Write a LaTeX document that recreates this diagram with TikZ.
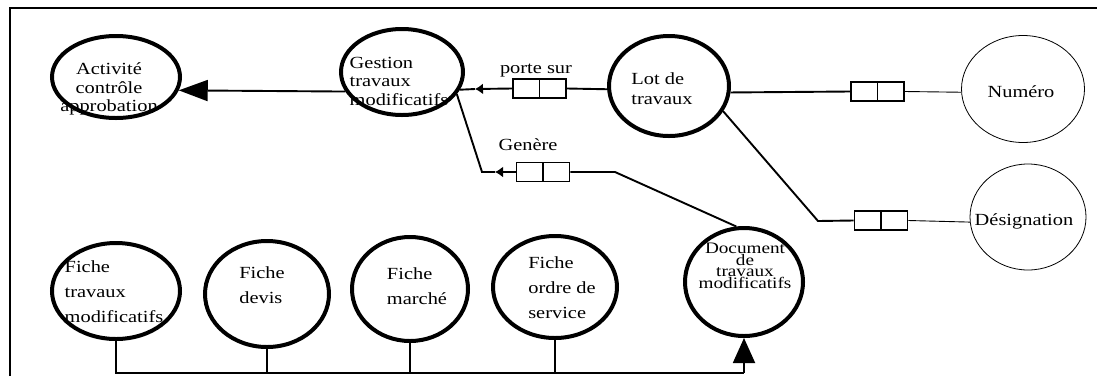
\documentclass[tikz,border=0pt]{standalone}
\usepackage{fontspec}
\setmainfont{Liberation Serif}[FakeStretch=1.2]
\usetikzlibrary{shapes.geometric,arrows.meta}
\begin{document}
\begin{tikzpicture}[x=1pt,y=-1pt,
  ell/.style={ellipse,draw,inner sep=0pt,line width=4pt},
  thinell/.style={ellipse,draw,inner sep=0pt,line width=0.8pt},
  txt/.style={inner sep=0pt,font=\fontsize{17}{18.5}\selectfont,align=left},
  card/.style={draw,line width=1.8pt,minimum width=53pt,minimum height=19pt,inner sep=0pt,
    path picture={\draw[line width=1.8pt] (path picture bounding box.north) -- (path picture bounding box.south);}},
  conn/.style={line width=1.9pt},
  fine/.style={line width=0.9pt},
  bigtip/.style={-{Triangle[length=29pt,width=21pt]}},
  cardtip/.style={{Latex[length=8pt,width=11pt]}-},
]
\useasboundingbox (0,0) rectangle (1097,376);
% frame
\draw[line width=1.5pt] (10,376) -- (10,8) -- (1097,8);

% texts
\node[txt,align=center] (act-t) at (109,89) {Activité\\contrôle\\approbation};
\node[txt] (ges-t) at (399,81) {Gestion\\travaux\\modificatifs};
\node[txt,font=\fontsize{17}{20}\selectfont] (lot-t) at (662,89) {Lot de\\travaux};
\node[txt] (num-t) at (1021,92) {Numéro};
\node[txt] (des-t) at (1024,221) {Désignation};
\node[txt,font=\fontsize{17}{25}\selectfont] (ftm-t) at (114,292) {Fiche\\travaux\\modificatifs};
\node[txt,font=\fontsize{17}{25}\selectfont] (fdv-t) at (262,285) {Fiche\\devis};
\node[txt,font=\fontsize{17}{25}\selectfont] (fma-t) at (417,286) {Fiche\\marché};
\node[txt,font=\fontsize{17}{25}\selectfont] (fos-t) at (562,288) {Fiche\\ordre de\\service};
\node[txt,align=center,font=\fontsize{16}{11.5}\selectfont] (doc-t) at (745,266) {Document\\de\\travaux\\modificatifs};
\node[txt] (l-porte) at (536,71) {porte sur};
\node[txt] (l-genere) at (528,145) {Genère};

% ellipses
\node[ell,minimum width=128pt,minimum height=82pt] (act) at (116,77) {};
\node[ell,minimum width=122pt,minimum height=86pt] (ges) at (402,72) {};
\node[ell,minimum width=120pt,minimum height=100pt] (lot) at (669,86) {};
\node[thinell,minimum width=123pt,minimum height=107pt] (num) at (1023,89) {};
\node[thinell,minimum width=116pt,minimum height=106pt] (des) at (1028,217) {};
\node[ell,minimum width=128pt,minimum height=96pt] (ftm) at (116,291) {};
\node[ell,minimum width=124pt,minimum height=106pt] (fdv) at (267,294) {};
\node[ell,minimum width=116pt,minimum height=104pt] (fma) at (410,289) {};
\node[ell,minimum width=124pt,minimum height=102pt] (fos) at (555,287) {};
\node[ell,minimum width=118pt,minimum height=108pt] (doc) at (744,282) {};

% cardinality boxes
\node[card] (c1) at (539.5,88.5) {};
\node[card] (c2) at (543,172) {};
\node[card] (c3) at (877.5,91.5) {};
\node[card] (c4) at (881,220.5) {};

% helper coordinates
\coordinate (m1) at (475,89);
\coordinate (g1) at (482,172);
\coordinate (m2) at (495,172);
\coordinate (g2) at (615,172);
\coordinate (d1) at (818,221);
\coordinate (bus) at (0,373);

% connectors
\draw[conn,bigtip] (ges.199) -- (act.-12);
\draw[conn] (ges.-17) -- (m1);
\draw[conn,cardtip] (m1) -- (c1.west);
\draw[conn] (c1.east) -- (lot.183);
\draw[conn] (ges.-22) -- (g1) -- (m2);
\draw[conn,cardtip] (m2) -- (c2.west);
\draw[conn] (c2.east) -- (g2) -- (doc.98);
\draw[conn] (lot.-6) -- (c3.west);
\draw[fine] (c3.east) -- (num.183);
\draw[conn] (lot.-25) -- (d1) -- (c4.west);
\draw[fine] (c4.east) -- (des.185);

% bus
\draw[conn] (ftm.south) -- (ftm.south |- bus) -- (doc.south |- bus);
\draw[conn] (fdv.south) -- (fdv.south |- bus);
\draw[conn] (fma.south) -- (fma.south |- bus);
\draw[conn] (fos.south) -- (fos.south |- bus);
\draw[conn,-{Triangle[length=25pt,width=22pt]}] (doc.south |- bus) -- (doc.south);
\end{tikzpicture}
\end{document}
